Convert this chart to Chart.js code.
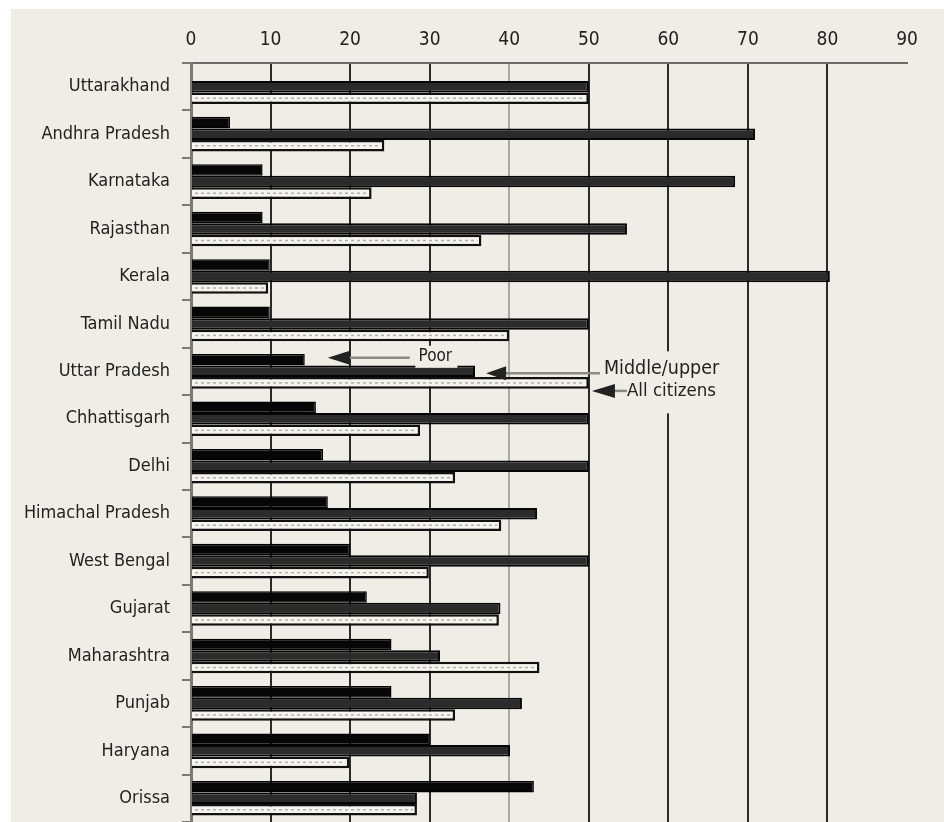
<!DOCTYPE html>
<html>
<head>
<meta charset="utf-8">
<script src="https://cdn.jsdelivr.net/npm/chart.js@4.4.1/dist/chart.umd.min.js"></script>
<style>
  html, body { margin: 0; padding: 0; background: #fff; }
  canvas { display: block; }
</style>
</head>
<body>
<canvas id="chart" width="944" height="822"></canvas>
<script>
(function () {
  'use strict';

  // States, top to bottom
  const states = [
    'Uttarakhand', 'Andhra Pradesh', 'Karnataka', 'Rajasthan', 'Kerala',
    'Tamil Nadu', 'Uttar Pradesh', 'Chhattisgarh', 'Delhi', 'Himachal Pradesh',
    'West Bengal', 'Gujarat', 'Maharashtra', 'Punjab', 'Haryana', 'Orissa'
  ];

  // Values
  const poor = [null, 4.9, 9.0, 9.0, 9.9, 9.9, 14.3, 15.7, 16.6, 17.2, 20.0, 22.1, 25.2, 25.2, 30.0, 43.1];
  const middleUpper = [50.0, 70.9, 68.4, 54.8, 80.3, 50.0, 35.7, 50.0, 50.0, 43.5, 50.0, 38.9, 31.3, 41.6, 40.1, 28.4];
  const allCitizens = [50.0, 24.3, 22.7, 36.5, 9.7, 40.0, 50.0, 28.8, 33.2, 39.0, 29.9, 38.7, 43.8, 33.2, 19.9, 28.4];

  const xMin = 0;
  const xMax = 90;
  const xStep = 10;

  const FONT = "'DejaVu Sans Condensed', 'Liberation Sans Narrow', sans-serif";
  const BEIGE = '#efede6';

  // page background: white margin, beige panel
  const backgroundPlugin = {
    id: 'panel',
    beforeDraw(chart) {
      const ctx = chart.ctx;
      ctx.save();
      ctx.fillStyle = '#ffffff';
      ctx.fillRect(0, 0, chart.width, chart.height);
      ctx.fillStyle = BEIGE;
      ctx.fillRect(11, 9, chart.width - 11, chart.height - 9);
      ctx.restore();
    }
  };

  // dotted line through the "All citizens" bars
  const dottedPlugin = {
    id: 'dotted',
    afterDatasetsDraw(chart) {
      const ctx = chart.ctx;
      const meta = chart.getDatasetMeta(2);
      ctx.save();
      ctx.strokeStyle = '#b0aea8';
      ctx.lineWidth = 1.5;
      ctx.setLineDash([3, 3]);
      meta.data.forEach(el => {
        const p = el.getProps(['x', 'y', 'base'], true);
        if (p.x - p.base < 6) return;
        ctx.beginPath();
        ctx.moveTo(p.base + 3, p.y);
        ctx.lineTo(p.x - 4, p.y);
        ctx.stroke();
      });
      ctx.restore();
    }
  };

  function arrowHead(ctx, tipX, y, len, half) {
    ctx.beginPath();
    ctx.moveTo(tipX, y);
    ctx.lineTo(tipX + len, y - half);
    ctx.lineTo(tipX + len, y + half);
    ctx.closePath();
    ctx.fill();
  }

  // callout labels on the Uttar Pradesh row
  const calloutPlugin = {
    id: 'callouts',
    afterDraw(chart) {
      const ctx = chart.ctx;
      const xs = chart.scales.x;
      const row = states.indexOf('Uttar Pradesh');
      const yPoor = chart.getDatasetMeta(0).data[row].y;
      const yMid = chart.getDatasetMeta(1).data[row].y;
      const yAll = chart.getDatasetMeta(2).data[row].y;

      ctx.save();
      // boxes behind the text
      ctx.fillStyle = BEIGE;
      ctx.fillRect(xs.getPixelForValue(28.2), yPoor - 14, 42, 22);
      ctx.fillRect(xs.getPixelForValue(51.5), yMid - 20, 124, 62);

      ctx.fillStyle = '#222';
      ctx.textBaseline = 'middle';
      ctx.textAlign = 'left';

      // Poor
      ctx.strokeStyle = '#8a8a86';
      ctx.lineWidth = 2.5;
      ctx.beginPath();
      ctx.moveTo(xs.getPixelForValue(19.5), yPoor - 2);
      ctx.lineTo(xs.getPixelForValue(27.5), yPoor - 2);
      ctx.stroke();
      arrowHead(ctx, xs.getPixelForValue(17.2), yPoor - 2, 22, 7);
      ctx.font = '17px ' + FONT;
      ctx.fillText('Poor', xs.getPixelForValue(28.6), yPoor - 3);

      // Middle/upper
      ctx.beginPath();
      ctx.moveTo(xs.getPixelForValue(39.5), yMid + 2);
      ctx.lineTo(xs.getPixelForValue(51.4), yMid + 2);
      ctx.stroke();
      arrowHead(ctx, xs.getPixelForValue(37.1), yMid + 2, 20, 7);
      ctx.font = '19.5px ' + FONT;
      ctx.fillText('Middle/upper', xs.getPixelForValue(51.9), yMid - 2);

      // All citizens
      ctx.beginPath();
      ctx.moveTo(xs.getPixelForValue(52.5), yAll + 8);
      ctx.lineTo(xs.getPixelForValue(54.8), yAll + 8);
      ctx.stroke();
      arrowHead(ctx, xs.getPixelForValue(50.4), yAll + 8, 23, 7);
      ctx.font = '18.5px ' + FONT;
      ctx.fillText('All citizens', xs.getPixelForValue(54.8), yAll + 8);
      ctx.restore();
    }
  };

  Chart.defaults.font.family = FONT;
  Chart.defaults.color = '#222';

  const ctx = document.getElementById('chart').getContext('2d');

  new Chart(ctx, {
    type: 'bar',
    data: {
      labels: states,
      datasets: [
        {
          label: 'Poor',
          data: poor,
          backgroundColor: '#060606',
          borderColor: '#000',
          borderWidth: 1.5
        },
        {
          label: 'Middle/upper',
          data: middleUpper,
          backgroundColor: '#2b2b2b',
          borderColor: '#050505',
          borderWidth: 2
        },
        {
          label: 'All citizens',
          data: allCitizens,
          backgroundColor: '#f5f4ef',
          borderColor: '#111',
          borderWidth: 2.5
        }
      ]
    },
    options: {
      indexAxis: 'y',
      responsive: false,
      animation: false,
      devicePixelRatio: 1,
      layout: { padding: { left: 0, top: 0, right: 37, bottom: 0 } },
      datasets: {
        bar: {
          categoryPercentage: 0.73,
          barPercentage: 1.0
        }
      },
      plugins: {
        legend: { display: false },
        tooltip: { enabled: false },
        title: { display: false }
      },
      scales: {
        x: {
          position: 'top',
          min: xMin,
          max: xMax,
          z: 1,
          afterFit: function (scale) {
            scale.height = 63;
            scale.paddingLeft = 0;
            scale.paddingRight = 0;
          },
          ticks: {
            stepSize: xStep,
            padding: 12,
            color: '#222',
            font: { size: 19 }
          },
          grid: {
            drawTicks: false,
            lineWidth: 2,
            color: function (c) {
              const v = c.tick ? c.tick.value : null;
              if (v === 0) return '#777';
              if (v === 40) return '#a9a8a3';
              if (v === 90) return 'rgba(0,0,0,0)';
              return '#2a2a2a';
            }
          },
          border: { display: true, color: '#6a6a68', width: 2 }
        },
        y: {
          z: 1,
          afterFit: function (scale) {
            scale.width = 191;
            scale.paddingTop = 0;
            scale.paddingBottom = 0;
          },
          ticks: {
            padding: 12,
            color: '#222',
            font: { size: 18 }
          },
          grid: {
            drawOnChartArea: false,
            drawTicks: true,
            tickLength: 9,
            lineWidth: 2,
            color: '#7a7a78'
          },
          border: { display: true, color: '#7a7a78', width: 3 }
        }
      }
    },
    plugins: [backgroundPlugin, dottedPlugin, calloutPlugin]
  });
})();
</script>
</body>
</html>
